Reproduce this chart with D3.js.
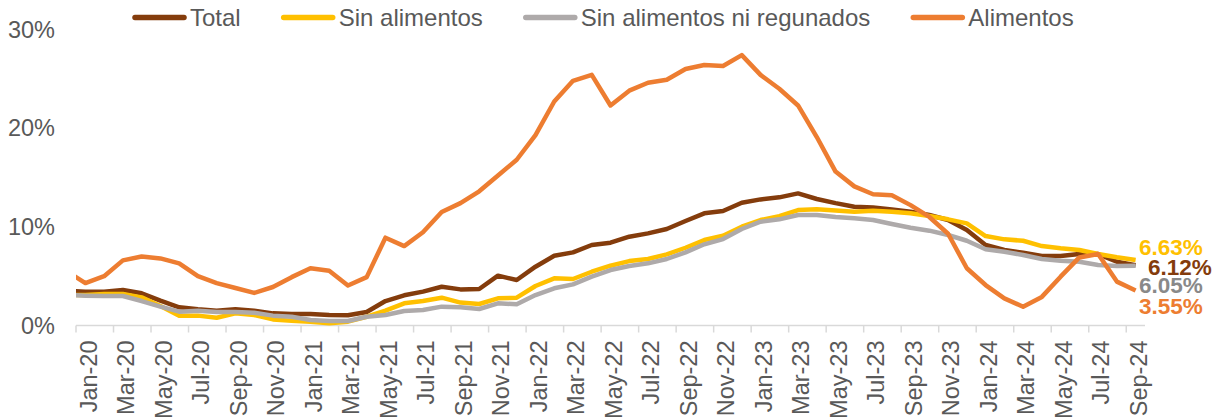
<!DOCTYPE html>
<html>
<head>
    <meta charset="UTF-8">
    <title>Inflación anual</title>
    <style>
    body { margin: 0; background: #fff; }
    svg text { font-family: "Liberation Sans", Arial, sans-serif; }
    </style>
</head>
<body>
<svg id="chart" width="1223" height="419"></svg>
<script src="https://d3js.org/d3.v7.min.js"></script>
<script>

// months from Dec-19 (partly hidden at the left edge) to Sep-24
let months = ["Dec-19",
    "Jan-20","Feb-20","Mar-20","Apr-20","May-20","Jun-20","Jul-20","Aug-20","Sep-20","Oct-20","Nov-20","Dec-20",
    "Jan-21","Feb-21","Mar-21","Apr-21","May-21","Jun-21","Jul-21","Aug-21","Sep-21","Oct-21","Nov-21","Dec-21",
    "Jan-22","Feb-22","Mar-22","Apr-22","May-22","Jun-22","Jul-22","Aug-22","Sep-22","Oct-22","Nov-22","Dec-22",
    "Jan-23","Feb-23","Mar-23","Apr-23","May-23","Jun-23","Jul-23","Aug-23","Sep-23","Oct-23","Nov-23","Dec-23",
    "Jan-24","Feb-24","Mar-24","Apr-24","May-24","Jun-24","Jul-24","Aug-24","Sep-24"];

let total = [3.5,
    3.43,3.43,3.6,3.26,2.52,1.84,1.64,1.5,1.64,1.5,1.23,1.17,
    1.17,1.06,1.03,1.37,2.48,3.06,3.43,3.93,3.66,3.7,5.05,4.61,
    5.96,7.07,7.41,8.16,8.39,9.0,9.34,9.78,10.59,11.37,11.6,12.44,
    12.78,12.99,13.39,12.82,12.4,12.04,11.97,11.77,11.53,11.2,10.69,9.68,
    8.16,7.65,7.38,7.04,7.04,7.24,7.24,6.46,6.12];

let sinAlimentos = [3.09,
    3.09,3.19,3.19,2.85,1.98,1.0,1.0,0.79,1.23,1.06,0.62,0.49,
    0.39,0.22,0.39,0.89,1.5,2.25,2.48,2.82,2.32,2.18,2.75,2.82,
    4.0,4.78,4.71,5.45,6.06,6.53,6.74,7.21,7.88,8.66,9.1,10.01,
    10.69,11.09,11.7,11.77,11.65,11.53,11.63,11.53,11.37,11.09,10.76,10.35,
    9.07,8.73,8.59,8.05,7.82,7.65,7.24,6.91,6.63];

let sinAlimReg = [3.09,
    3.02,2.99,2.99,2.48,1.91,1.4,1.5,1.37,1.37,1.3,1.0,0.89,
    0.56,0.46,0.46,0.89,1.06,1.47,1.57,1.91,1.84,1.67,2.25,2.15,
    3.09,3.77,4.17,4.95,5.62,6.03,6.3,6.74,7.41,8.23,8.76,9.78,
    10.52,10.76,11.2,11.2,11.0,10.86,10.69,10.28,9.91,9.61,9.17,8.59,
    7.72,7.48,7.14,6.74,6.57,6.46,6.13,6.03,6.05];

let alimentos = [5.5,
    4.3,5.0,6.6,7.0,6.8,6.3,5.0,4.3,3.8,3.3,3.9,4.9,
    5.8,5.55,4.05,4.9,8.9,8.05,9.45,11.5,12.4,13.6,15.2,16.8,
    19.3,22.7,24.8,25.4,22.3,23.8,24.6,24.9,26.0,26.4,26.3,27.4,
    25.4,24.0,22.3,19.1,15.6,14.1,13.3,13.2,12.2,11.0,9.3,5.8,
    4.1,2.75,1.9,2.9,4.95,6.9,7.25,4.45,3.55];

let seriesNames = ["Total", "Sin alimentos", "Sin alimentos ni regunados", "Alimentos"];
let seriesColors = ["#843C0C", "#FFC000", "#AEAAAA", "#ED7D31"];
let labelColors = ["#843C0C", "#FFC000", "#898989", "#ED7D31"];
let yTicks = [0, 10, 20, 30];

let series = [total, sinAlimentos, sinAlimReg, alimentos];

let svg = d3.select("#chart");
let plotLeft = 76, plotRight = 1145, plotTop = 29.5, plotBottom = 325.5;

// index 0 = Dec-19, so Jan-20 (index 1) sits in the first category slot
let x = d3.scaleLinear()
    .domain([0.5, months.length - 0.5])
    .range([plotLeft, plotRight]);

let y = d3.scaleLinear()
    .domain([0, 30])
    .range([plotBottom, plotTop]);

svg.append("defs").append("clipPath")
    .attr("id", "plot")
    .append("rect")
    .attr("x", plotLeft)
    .attr("y", 0)
    .attr("width", plotRight - plotLeft)
    .attr("height", 419);

// y labels (no gridlines)
svg.append("g")
    .selectAll("text")
    .data(yTicks)
    .enter().append("text")
    .attr("x", 55)
    .attr("y", d => y(d))
    .attr("dy", "0.35em")
    .attr("text-anchor", "end")
    .attr("fill", "#595959")
    .style("font-size", "23.5px")
    .text(d => d + "%");

// x axis with ticks every two months at category boundaries
let xAxis = svg.append("g");
xAxis.append("line")
    .attr("x1", plotLeft).attr("x2", plotRight)
    .attr("y1", plotBottom).attr("y2", plotBottom)
    .attr("stroke", "#D9D9D9")
    .attr("stroke-width", 1.5);

let tickIdx = d3.range(0.5, months.length - 1, 2);
xAxis.selectAll("line.tick")
    .data(tickIdx)
    .enter().append("line")
    .attr("class", "tick")
    .attr("x1", d => x(d)).attr("x2", d => x(d))
    .attr("y1", plotBottom).attr("y2", plotBottom + 7)
    .attr("stroke", "#D9D9D9")
    .attr("stroke-width", 1.5);

let labelIdx = d3.range(1, months.length, 2);
xAxis.selectAll("text")
    .data(labelIdx)
    .enter().append("text")
    .attr("transform", d => "translate(" + (x(d) + 3) + "," + (plotBottom + 15) + ") rotate(-90)")
    .attr("dy", "0.35em")
    .attr("text-anchor", "end")
    .attr("fill", "#595959")
    .style("font-size", "23.5px")
    .text(d => months[d]);

let line = d3.line()
    .x((d, i) => x(i))
    .y(d => y(d));

svg.append("g")
    .attr("clip-path", "url(#plot)")
    .selectAll("path")
    .data(series)
    .enter().append("path")
    .attr("d", line)
    .attr("fill", "none")
    .attr("stroke", (d, i) => seriesColors[i])
    .attr("stroke-width", 4.5)
    .attr("stroke-linejoin", "round");

// end labels (stacked tight, like the original)
let endLabels = [
    {k: 1, x: 1139, y: 255},
    {k: 0, x: 1148, y: 275},
    {k: 2, x: 1139, y: 293},
    {k: 3, x: 1139, y: 314}
];
svg.append("g")
    .selectAll("text")
    .data(endLabels)
    .enter().append("text")
    .attr("x", d => d.x)
    .attr("y", d => d.y)
    .attr("fill", d => labelColors[d.k])
    .attr("font-weight", "bold")
    .style("font-size", "22.5px")
    .text(d => d3.format(".2f")(series[d.k][months.length - 1]) + "%");

// legend
let legend = svg.append("g");
let lx = 132;
seriesNames.forEach((name, i) => {
    legend.append("line")
        .attr("x1", lx + 3).attr("x2", lx + 52)
        .attr("y1", 17.5).attr("y2", 17.5)
        .attr("stroke", seriesColors[i])
        .attr("stroke-width", 5.5)
        .attr("stroke-linecap", "round");
    let t = legend.append("text")
        .attr("x", lx + 58)
        .attr("y", 18)
        .attr("dy", "0.35em")
        .attr("fill", "#595959")
        .style("font-size", "24px")
        .text(name);
    lx += 58 + t.node().getComputedTextLength() + 40;
});

</script>
</body>
</html>
